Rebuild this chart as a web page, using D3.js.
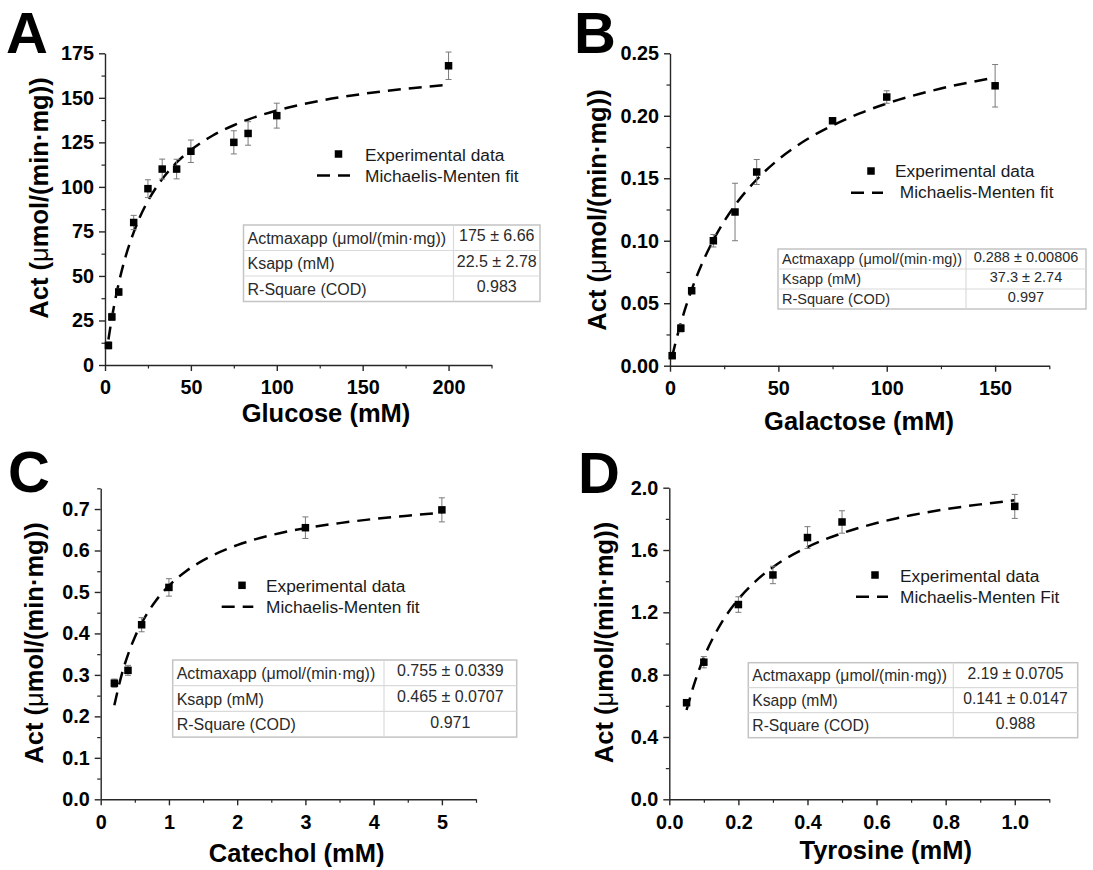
<!DOCTYPE html>
<html><head><meta charset="utf-8">
<script src="https://cdn.jsdelivr.net/npm/d3@7"></script>
<style>body{margin:0;background:#fff}svg{display:block}text{font-family:Arial,"Liberation Sans",sans-serif}</style>
</head><body><svg id="c" width="1093" height="870"></svg>
<script>
// ---------- DATA ----------
// Panel A: Glucose
const glucoseX   = [2, 4, 8, 16.7, 25, 33.3, 41.7, 50, 75, 83.3, 100, 200];
const glucoseAct = [11, 27, 41, 80, 99, 110, 110, 120, 125, 130, 140, 168];
const glucoseErr = [2, 2, 2, 4, 5, 5.6, 5.5, 6.3, 6.5, 6.6, 7, 7.7];
const glucoseFitX = [2, 4, 6, 8, 12, 16.7, 20, 25, 30, 33.3, 41.7, 50, 62.5, 75, 83.3, 100, 125, 150, 175, 200];
const glucoseFitY = [14.3, 26.4, 36.8, 45.9, 60.9, 74.5, 82.4, 92.1, 100, 104.4, 113.7, 120.7, 128.7, 134.6, 137.8, 142.9, 148.3, 152.2, 155.1, 157.3];
const glucoseXTicks = [0, 50, 100, 150, 200];
const glucoseYTicks = [0, 25, 50, 75, 100, 125, 150, 175];
const glucoseTable = [["Actmaxapp (μmol/(min·mg))", "175 ± 6.66"], ["Ksapp (mM)", "22.5 ± 2.78"], ["R-Square (COD)", "0.983"]];

// Panel B: Galactose
const galactoseX   = [1, 5, 10, 20, 30, 40, 75, 100, 150];
const galactoseAct = [0.008, 0.030, 0.060, 0.100, 0.123, 0.155, 0.196, 0.215, 0.224];
const galactoseErr = [0.002, 0.003, 0.002, 0.005, 0.023, 0.010, 0.002, 0.005, 0.017];
const galactoseFitX = [1, 2.5, 5, 7.5, 10, 15, 20, 25, 30, 40, 50, 62.5, 75, 87.5, 100, 125, 150];
const galactoseFitY = [0.0075, 0.0181, 0.0340, 0.0482, 0.0609, 0.0826, 0.1005, 0.1156, 0.1284, 0.1490, 0.1650, 0.1804, 0.1923, 0.2019, 0.2098, 0.2218, 0.2306];
const galactoseXTicks = [0, 50, 100, 150];
const galactoseYTicks = [0, 0.05, 0.10, 0.15, 0.20, 0.25];
const galactoseTable = [["Actmaxapp (μmol/(min·mg))", "0.288 ± 0.00806"], ["Ksapp (mM)", "37.3 ± 2.74"], ["R-Square (COD)", "0.997"]];

// Panel C: Catechol
const catecholX   = [0.2, 0.4, 0.6, 1.0, 3.0, 5.0];
const catecholAct = [0.280, 0.311, 0.421, 0.511, 0.655, 0.698];
const catecholErr = [0.010, 0.012, 0.017, 0.021, 0.026, 0.029];
const catecholFitX = [0.2, 0.3, 0.4, 0.5, 0.6, 0.8, 1.0, 1.25, 1.5, 2.0, 2.5, 3.0, 3.5, 4.0, 4.5, 5.0];
const catecholFitY = [0.227, 0.296, 0.349, 0.391, 0.425, 0.477, 0.515, 0.550, 0.576, 0.613, 0.637, 0.654, 0.666, 0.676, 0.684, 0.691];
const catecholXTicks = [0, 1, 2, 3, 4, 5];
const catecholYTicks = [0, 0.1, 0.2, 0.3, 0.4, 0.5, 0.6, 0.7];
const catecholTable = [["Actmaxapp (μmol/(min·mg))", "0.755 ± 0.0339"], ["Ksapp (mM)", "0.465 ± 0.0707"], ["R-Square (COD)", "0.971"]];

// Panel D: Tyrosine
const tyrosineX   = [0.05, 0.1, 0.2, 0.3, 0.4, 0.5, 1.0];
const tyrosineAct = [0.62, 0.88, 1.25, 1.44, 1.68, 1.78, 1.88];
const tyrosineErr = [0.02, 0.036, 0.05, 0.056, 0.07, 0.072, 0.077];
const tyrosineFitX = [0.05, 0.075, 0.1, 0.15, 0.2, 0.25, 0.3, 0.4, 0.5, 0.6, 0.7, 0.8, 0.9, 1.0];
const tyrosineFitY = [0.573, 0.760, 0.909, 1.129, 1.284, 1.400, 1.490, 1.619, 1.708, 1.773, 1.823, 1.862, 1.893, 1.919];
const tyrosineXTicks = [0, 0.2, 0.4, 0.6, 0.8, 1.0];
const tyrosineYTicks = [0, 0.4, 0.8, 1.2, 1.6, 2.0];
const tyrosineTable = [["Actmaxapp (μmol/(min·mg))", "2.19 ± 0.0705"], ["Ksapp (mM)", "0.141 ± 0.0147"], ["R-Square (COD)", "0.988"]];

const panelLetters = ["A", "B", "C", "D"];
const xTitles = ["Glucose (mM)", "Galactose (mM)", "Catechol (mM)", "Tyrosine (mM)"];
const legendLabels = [["Experimental data", "Michaelis-Menten fit"], ["Experimental data", " Michaelis-Menten fit"], ["Experimental data", "Michaelis-Menten fit"], ["Experimental data", "Michaelis-Menten Fit"]];

// ---------- LAYOUT ----------
const panels = [
  {x: glucoseX, y: glucoseAct, e: glucoseErr, fx: glucoseFitX, fy: glucoseFitY, xt: glucoseXTicks, yt: glucoseYTicks, tab: glucoseTable,
   xd: [0, 225], yd: [0, 175], xr: [105, 491.5], yr: [365, 53.3], xminor: 25, yminor: 12.5, xfmt: d3.format("d"), yfmt: d3.format("d"),
   letter: [6, 53], ytitle: [40, 198], xtitle: [326, 421.5],
   leg: {mx: 338.5, my: 154, tx: 365, t1: 160.5, ly: 175.5, lx0: 317, lx1: 350, t2: 181.5},
   table: {x0: 243.5, x1: 540, y0: 225, rh: 25.5, col: 453.5, fs: 16}},
  {x: galactoseX, y: galactoseAct, e: galactoseErr, fx: galactoseFitX, fy: galactoseFitY, xt: galactoseXTicks, yt: galactoseYTicks, tab: galactoseTable,
   xd: [0, 175], yd: [0, 0.25], xr: [670, 1049.3], yr: [365.7, 53.3], xminor: 25, yminor: 0.025, xfmt: d3.format("d"), yfmt: d3.format(".2f"),
   letter: [574, 53], ytitle: [598, 210], xtitle: [859, 430],
   leg: {mx: 871, my: 171, tx: 895, t1: 177, ly: 192.7, lx0: 851, lx1: 883, t2: 198},
   table: {x0: 778, x1: 1086, y0: 249, rh: 20, col: 966, fs: 14.5}},
  {x: catecholX, y: catecholAct, e: catecholErr, fx: catecholFitX, fy: catecholFitY, xt: catecholXTicks, yt: catecholYTicks, tab: catecholTable,
   xd: [0, 5.5], yd: [0, 0.75], xr: [100.7, 476], yr: [799.3, 488.3], xminor: 0.5, yminor: 0.05, xfmt: d3.format("d"), yfmt: d3.format(".1f"),
   letter: [8, 492], ytitle: [35, 643], xtitle: [296.7, 862],
   leg: {mx: 242, my: 585.3, tx: 266, t1: 591.5, ly: 606.7, lx0: 221.7, lx1: 253.3, t2: 613},
   table: {x0: 172.7, x1: 516.7, y0: 660, rh: 25.7, col: 384, fs: 16}},
  {x: tyrosineX, y: tyrosineAct, e: tyrosineErr, fx: tyrosineFitX, fy: tyrosineFitY, xt: tyrosineXTicks, yt: tyrosineYTicks, tab: tyrosineTable,
   xd: [0, 1.1], yd: [0, 2.0], xr: [669.3, 1049.3], yr: [799.3, 487.7], xminor: 0.1, yminor: 0.2, xfmt: d3.format(".1f"), yfmt: d3.format(".1f"),
   letter: [578, 493], ytitle: [605, 642.5], xtitle: [885.7, 859],
   leg: {mx: 875, my: 575, tx: 900, t1: 581.5, ly: 596.7, lx0: 856, lx1: 888, t2: 602.5},
   table: {x0: 748.3, x1: 1077.7, y0: 662.7, rh: 25, col: 953.3, fs: 15.7}}
];

const svg = d3.select("#c");
const axisColor = "#262626";

panels.forEach((p, i) => {
  const g = svg.append("g");
  const xs = d3.scaleLinear().domain(p.xd).range(p.xr);
  const ys = d3.scaleLinear().domain(p.yd).range(p.yr);

  // minor ticks
  const xMinor = d3.range(p.xd[0], p.xd[1] + 1e-9, p.xminor).filter(v => !p.xt.some(t => Math.abs(t - v) < 1e-9));
  const yMinor = d3.range(p.yd[0], p.yd[1] + 1e-9, p.yminor).filter(v => !p.yt.some(t => Math.abs(t - v) < 1e-9));
  const xMinAx = g.append("g").attr("transform", `translate(0,${p.yr[0]})`)
    .call(d3.axisBottom(xs).tickValues(xMinor).tickSize(3.5).tickFormat("").tickSizeOuter(0));
  const yMinAx = g.append("g").attr("transform", `translate(${p.xr[0]},0)`)
    .call(d3.axisLeft(ys).tickValues(yMinor).tickSize(3.5).tickFormat("").tickSizeOuter(0));
  [xMinAx, yMinAx].forEach(a => { a.select(".domain").remove(); a.selectAll("line").attr("stroke", axisColor).attr("stroke-width", 1.2); });

  const xAx = g.append("g").attr("transform", `translate(0,${p.yr[0]})`)
    .call(d3.axisBottom(xs).tickValues(p.xt).tickFormat(p.xfmt).tickSize(6).tickSizeOuter(0).tickPadding(5));
  const yAx = g.append("g").attr("transform", `translate(${p.xr[0]},0)`)
    .call(d3.axisLeft(ys).tickValues(p.yt).tickFormat(p.yfmt).tickSize(6).tickSizeOuter(0).tickPadding(5));
  [xAx, yAx].forEach(a => {
    a.select(".domain").attr("stroke", axisColor).attr("stroke-width", 1.4);
    a.selectAll("line").attr("stroke", axisColor).attr("stroke-width", 1.4);
    a.selectAll("text").attr("fill", "#000").attr("font-size", 19.8).attr("font-weight", "bold")
      .style("font-family", 'Arial,"Liberation Sans",sans-serif');
  });
  xAx.selectAll("text").attr("dy", "0.93em");

  // fit line
  const line = d3.line().x(d => xs(d[0])).y(d => ys(d[1])).curve(d3.curveMonotoneX);
  g.append("path").datum(p.fx.map((v, k) => [v, p.fy[k]])).attr("d", line)
    .attr("fill", "none").attr("stroke", "#000").attr("stroke-width", 2.5).attr("stroke-dasharray", "13,8");

  // error bars
  const pts = p.x.map((v, k) => ({x: v, y: p.y[k], e: p.e[k]}));
  const eb = g.append("g").attr("stroke", "#7a7a7a").attr("stroke-width", 1);
  eb.selectAll("line.v").data(pts).join("line").attr("class", "v")
    .attr("x1", d => xs(d.x)).attr("x2", d => xs(d.x)).attr("y1", d => ys(d.y - d.e)).attr("y2", d => ys(d.y + d.e));
  eb.selectAll("line.t").data(pts).join("line").attr("class", "t")
    .attr("x1", d => xs(d.x) - 3).attr("x2", d => xs(d.x) + 3).attr("y1", d => ys(d.y + d.e)).attr("y2", d => ys(d.y + d.e));
  eb.selectAll("line.b").data(pts).join("line").attr("class", "b")
    .attr("x1", d => xs(d.x) - 3).attr("x2", d => xs(d.x) + 3).attr("y1", d => ys(d.y - d.e)).attr("y2", d => ys(d.y - d.e));

  // markers
  const ms = 7.5;
  g.selectAll("rect.pt").data(pts).join("rect").attr("class", "pt")
    .attr("x", d => xs(d.x) - ms / 2).attr("y", d => ys(d.y) - ms / 2).attr("width", ms).attr("height", ms).attr("fill", "#000");

  // panel letter
  svg.append("text").attr("x", p.letter[0]).attr("y", p.letter[1]).text(panelLetters[i])
    .attr("font-size", 58).attr("font-weight", "bold").attr("fill", "#000");

  // y title
  const yt = svg.append("text").attr("transform", `translate(${p.ytitle[0]},${p.ytitle[1]}) rotate(-90)`)
    .attr("text-anchor", "middle").attr("dy", "0.3em").attr("font-size", 25.5).attr("font-weight", "bold").attr("fill", "#000");
  yt.append("tspan").text("Act (");
  yt.append("tspan").attr("font-weight", "normal").text("μ");
  yt.append("tspan").text("mol/(min·mg))");

  // x title
  svg.append("text").attr("x", p.xtitle[0]).attr("y", p.xtitle[1]).attr("text-anchor", "middle")
    .attr("font-size", 25.5).attr("font-weight", "bold").attr("fill", "#000").text(xTitles[i]);

  // legend
  const L = p.leg;
  svg.append("rect").attr("x", L.mx - 3.75).attr("y", L.my - 3.75).attr("width", 7.5).attr("height", 7.5).attr("fill", "#000");
  svg.append("text").attr("x", L.tx).attr("y", L.t1).attr("font-size", 17.3).attr("fill", "#1a1a1a").text(legendLabels[i][0]);
  svg.append("line").attr("x1", L.lx0).attr("x2", L.lx1).attr("y1", L.ly).attr("y2", L.ly)
    .attr("stroke", "#000").attr("stroke-width", 2.5).attr("stroke-dasharray", "13,8");
  svg.append("text").attr("x", L.tx).attr("y", L.t2).attr("font-size", 17.3).attr("fill", "#1a1a1a")
    .style("white-space", "pre").text(legendLabels[i][1]);

  // table
  const T = p.table;
  const tg = svg.append("g");
  const th = T.rh * p.tab.length;
  tg.append("rect").attr("x", T.x0).attr("y", T.y0).attr("width", T.x1 - T.x0).attr("height", th)
    .attr("fill", "#fff").attr("stroke", "#c4c4c4").attr("stroke-width", 1.5);
  tg.append("line").attr("x1", T.col).attr("x2", T.col).attr("y1", T.y0).attr("y2", T.y0 + th).attr("stroke", "#dadada").attr("stroke-width", 1.2);
  p.tab.forEach((row, r) => {
    if (r > 0) tg.append("line").attr("x1", T.x0).attr("x2", T.x1).attr("y1", T.y0 + r * T.rh).attr("y2", T.y0 + r * T.rh)
      .attr("stroke", "#dadada").attr("stroke-width", 1.2);
    tg.append("text").attr("x", T.x0 + 4).attr("y", T.y0 + r * T.rh + T.rh * 0.74).attr("font-size", T.fs).attr("fill", "#2a2a2a").text(row[0]);
    tg.append("text").attr("x", (T.col + T.x1) / 2).attr("y", T.y0 + r * T.rh + T.rh * 0.64).attr("text-anchor", "middle")
      .attr("font-size", T.fs).attr("fill", "#2a2a2a").text(row[1]);
  });
});
</script></body></html>
